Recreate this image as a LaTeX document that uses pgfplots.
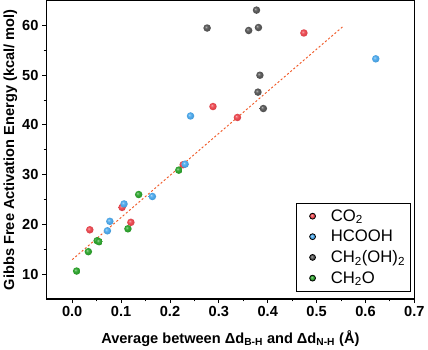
\documentclass[border=0pt]{standalone}
\usepackage{pgfplots}
\pgfplotsset{compat=1.18}
\usepackage{fontspec}
\setmainfont{Liberation Sans}
\definecolor{cred}{HTML}{EC4A52}
\definecolor{cblue}{HTML}{4FAAEC}
\definecolor{cgray}{HTML}{5A5A5A}
\definecolor{cgreen}{HTML}{30A530}
\definecolor{cfit}{HTML}{F05A28}
\colorlet{sph}{red}
\pgfdeclareradialshading[sph]{sphere}{\pgfqpoint{-9bp}{9bp}}{color(0bp)=(sph!35!white); color(5bp)=(sph!75!white); color(13bp)=(sph); color(30bp)=(sph!88!black); color(50bp)=(sph!88!black)}
\pgfdeclareplotmark{sph}{\pgfpathcircle{\pgfpointorigin}{\pgfplotmarksize}\pgfshadepath{sphere}{0}\pgfusepath{}}
\begin{document}
\begin{tikzpicture}
\begin{axis}[
  scale only axis, width=353pt, height=286pt,
  xmin=-0.053, xmax=0.7, ymin=5, ymax=65,
  xtick={0,0.1,...,0.7}, ytick={10,20,...,60},
  minor x tick num=1, minor y tick num=1,
  tick align=outside, tick pos=left,
  axis line style={line width=1.3pt},
  major tick length=4pt, minor tick length=2.5pt,
  every tick/.style={black, line width=0.9pt},
  /pgf/number format/assume math mode=true,
  xticklabel style={font=\fontsize{14}{16}\selectfont\bfseries, /pgf/number format/fixed, /pgf/number format/fixed zerofill, /pgf/number format/precision=1},
  yticklabel style={font=\fontsize{14}{16}\selectfont\bfseries},
  xlabel={\fontsize{14}{16}\selectfont\bfseries Average between Δd\textsubscript{B-H} and Δd\textsubscript{N-H} (Å)},
  ylabel={\fontsize{14}{16}\selectfont\bfseries Gibbs Free Activation Energy (kcal/ mol)},
  xlabel style={yshift=-6pt},
  ylabel style={yshift=-2pt},
  legend style={at={(0.99,0.025)}, anchor=south east, draw=black, line width=0.8pt,
    font=\fontsize{16}{18}\selectfont, row sep=3pt, inner xsep=3pt, inner ysep=4pt},
  legend cell align=left,
  legend image code/.code={\path (0,0) (0.95cm,0); \colorlet{sph}{\pgfkeysvalueof{/pgfplots/legendballcolor}}\shade[shading=sphere] (0.42cm,0cm) circle (2.8pt);},
  legendballcolor/.initial=red,
]
\addplot[cfit, line width=0.9pt, dash pattern=on 2pt off 2pt, forget plot] coordinates {(0,12.9)(0.555,59.9)};
\addplot[only marks, mark=sph, mark size=3.6pt, mark options={/utils/exec={\colorlet{sph}{cred}}}, legendballcolor=cred] coordinates {
(0.474,58.5)(0.288,43.7)(0.338,41.5)(0.036,18.9)(0.102,23.4)(0.120,20.4)(0.227,32.0)};
\addlegendentry{CO\textsubscript{2}}
\addplot[only marks, mark=sph, mark size=3.6pt, mark options={/utils/exec={\colorlet{sph}{cblue}}}, legendballcolor=cblue] coordinates {
(0.621,53.3)(0.242,41.8)(0.231,32.1)(0.106,24.1)(0.164,25.6)(0.077,20.6)(0.072,18.7)};
\addlegendentry{HCOOH}
\addplot[only marks, mark=sph, mark size=3.6pt, mark options={/utils/exec={\colorlet{sph}{cgray}}}, legendballcolor=cgray] coordinates {
(0.377,63.1)(0.276,59.5)(0.361,59.0)(0.381,59.6)(0.384,50.0)(0.380,46.6)(0.391,43.3)};
\addlegendentry{CH\textsubscript{2}(OH)\textsubscript{2}}
\addplot[only marks, mark=sph, mark size=3.6pt, mark options={/utils/exec={\colorlet{sph}{cgreen}}}, legendballcolor=cgreen] coordinates {
(0.218,30.9)(0.136,26.0)(0.114,19.1)(0.051,16.7)(0.055,16.5)(0.033,14.5)(0.009,10.6)};
\addlegendentry{CH\textsubscript{2}O}
\end{axis}
\end{tikzpicture}
\end{document}
